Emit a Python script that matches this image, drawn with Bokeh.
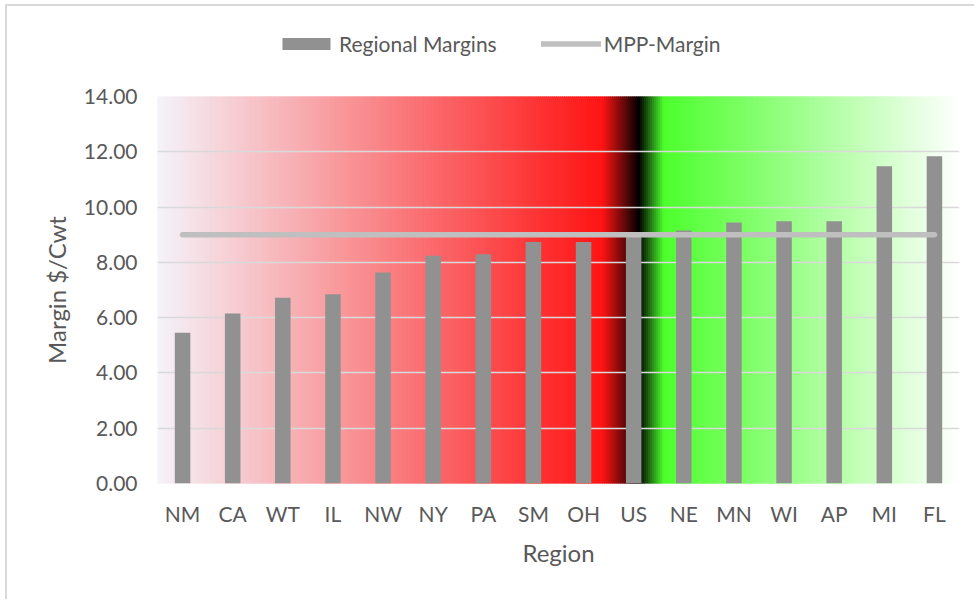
from bokeh.plotting import figure
from bokeh.layouts import column
from bokeh.models import (FactorRange, Range1d, FixedTicker, NumeralTickFormatter,
                          Legend, LegendItem)
from bokeh.embed import file_html
from bokeh.resources import INLINE

# ---- data -------------------------------------------------------------
regions = ["NM", "CA", "WT", "IL", "NW", "NY", "PA", "SM", "OH", "US",
           "NE", "MN", "WI", "AP", "MI", "FL"]
regional_margins = [5.45, 6.15, 6.72, 6.85, 7.63, 8.24, 8.29, 8.74, 8.74, 8.95,
                    9.15, 9.44, 9.49, 9.49, 11.48, 11.84]
mpp_margin = [9.00] * len(regions)
y_ticks = [0, 2, 4, 6, 8, 10, 12, 14]

# ---- style ------------------------------------------------------------
FONT = "Lato"
TEXT = "#595959"
GRID = "#D9D9D9"
BAR = "#919191"
LINE = "#BFBFBF"
BAR_WIDTH = 0.31
LINE_WIDTH = 5.5

# background gradient stops: (fraction across plot width, rgb)
GRAD_STOPS = [
    (0.000, (244, 244, 250)),
    (0.555, (255, 20, 20)),
    (0.601, (0, 0, 0)),
    (0.632, (76, 255, 44)),
    (1.000, (255, 255, 255)),
]


def grad_color(t):
    for (t0, c0), (t1, c1) in zip(GRAD_STOPS[:-1], GRAD_STOPS[1:]):
        if t <= t1:
            f = 0.0 if t1 == t0 else (t - t0) / (t1 - t0)
            r, g, b = (round(a + (b_ - a) * f) for a, b_ in zip(c0, c1))
            return "#%02x%02x%02x" % (r, g, b)
    return "#%02x%02x%02x" % GRAD_STOPS[-1][1]


W = 969
LEG_H = 60
MAIN_H = 535

# ---- legend strip (its frame lines up with the chart frame below) --------
leg = figure(width=W, height=LEG_H, x_range=Range1d(0, 100), y_range=Range1d(0, 100),
             x_axis_type=None, y_axis_type=None, output_backend="svg",
             toolbar_location=None, min_border=0)
leg.outline_line_color = None
leg.grid.visible = False
leg.background_fill_color = "white"
leg.border_fill_color = "white"
# key glyphs parked outside the visible range; they only feed the legend
leg_bar = leg.vbar(x=[-50], top=[-40], bottom=[-50], width=BAR_WIDTH,
                   fill_color=BAR, line_color=None)
leg_line = leg.line(x=[-50, -40], y=[-50, -50], line_color=LINE,
                    line_width=LINE_WIDTH, line_cap="round")
legend = Legend(items=[LegendItem(label="Regional Margins", renderers=[leg_bar]),
                       LegendItem(label="MPP-Margin", renderers=[leg_line])],
                orientation="horizontal", location=(119, 10),
                glyph_width=60, glyph_height=15, label_standoff=3, spacing=44,
                padding=0, margin=0, border_line_alpha=0,
                background_fill_alpha=0, label_text_font=FONT,
                label_text_font_size="21px", label_text_color=TEXT)
leg.add_layout(legend, "center")

# ---- main chart ---------------------------------------------------------
p = figure(width=W, height=MAIN_H, x_range=FactorRange(*regions),
           y_range=Range1d(0, 14), output_backend="svg", toolbar_location=None,
           min_border_left=150, min_border_right=17, min_border_top=30,
           min_border_bottom=118)
p.outline_line_color = None
p.background_fill_color = "white"
p.border_fill_color = "white"

# gradient backdrop in synthetic x coordinates (0 .. number of regions)
n_strips = 400
span = len(regions)
lefts = [span * i / n_strips for i in range(n_strips)]
rights = [span * (i + 1) / n_strips for i in range(n_strips)]
colors = [grad_color((i + 0.5) / n_strips) for i in range(n_strips)]
p.quad(left=lefts, right=rights, bottom=0, top=14, fill_color=colors,
       line_color=colors, line_width=1, level="image")

p.xgrid.grid_line_color = None
p.ygrid.grid_line_color = GRID
p.ygrid.grid_line_width = 1.6
p.ygrid.ticker = FixedTicker(ticks=y_ticks)

p.vbar(x=regions, top=regional_margins, width=BAR_WIDTH, fill_color=BAR,
       line_color=None)
p.line(x=regions, y=mpp_margin, line_color=LINE, line_width=LINE_WIDTH,
       line_cap="round")

p.yaxis.ticker = FixedTicker(ticks=y_ticks)
p.yaxis.formatter = NumeralTickFormatter(format="0.00")
p.yaxis.axis_label = "Margin $/Cwt"
p.xaxis.axis_label = "Region"
for ax in (p.xaxis[0], p.yaxis[0]):
    ax.axis_line_color = None
    ax.major_tick_line_color = None
    ax.minor_tick_line_color = None
    ax.major_tick_out = 0
    ax.major_tick_in = 0
    ax.major_label_text_font = FONT
    ax.major_label_text_font_size = "21px"
    ax.major_label_text_color = TEXT
    ax.axis_label_text_font = FONT
    ax.axis_label_text_font_size = "24px"
    ax.axis_label_text_color = TEXT
    ax.axis_label_text_font_style = "normal"
p.yaxis.major_label_standoff = 20
p.yaxis.axis_label_standoff = 10
p.xaxis.major_label_standoff = 17
p.xaxis.axis_label_standoff = 9

# chart panel inset from the page corner, with a thin grey top/left edge
layout = column(leg, p, spacing=0, margin=(6, 0, 0, 7),
                styles={"box-shadow": "-2px -2px 0 0 #D9D9D9"})

open("out.html", "w").write(file_html(layout, INLINE))
